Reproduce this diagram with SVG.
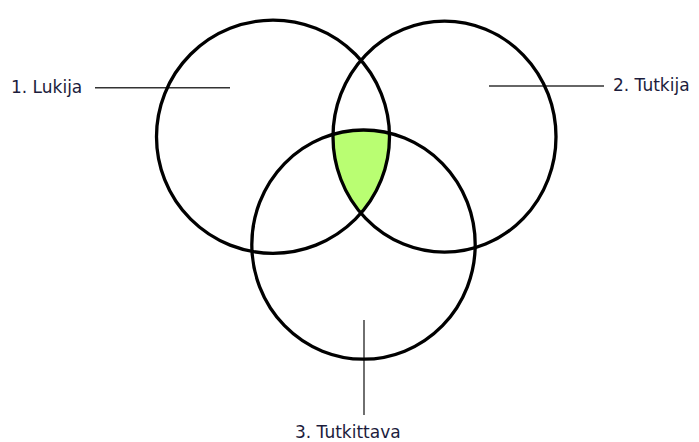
<svg xmlns="http://www.w3.org/2000/svg" width="699" height="442" viewBox="0 0 699 442">
  <style>
    .ring { fill: none; stroke: #000; stroke-width: 3.3; }
    .lead { stroke: #333; stroke-width: 1.4; fill: none; }
    .lbl { font-family: "DejaVu Sans", Verdana, sans-serif; font-size: 17px; fill: #1c1c3c; }
  </style>
  <defs>
    <clipPath id="clip1"><ellipse cx="273" cy="136.7" rx="116.5" ry="116.6"/></clipPath>
    <clipPath id="clip2"><ellipse cx="444.5" cy="136.7" rx="111.5" ry="115.5"/></clipPath>
  </defs>
  <rect width="699" height="442" fill="#fff"/>
  <g id="overlap" clip-path="url(#clip1)">
    <ellipse cx="363.5" cy="244.6" rx="111.7" ry="114.6" fill="#b9fe72" clip-path="url(#clip2)"/>
  </g>
  <g id="connectors">
    <line class="lead" x1="95" y1="87.7" x2="230" y2="87.7"/>
    <line class="lead" x1="489" y1="86" x2="604" y2="86"/>
    <line class="lead" x1="364" y1="320" x2="364" y2="415"/>
  </g>
  <g id="node1">
    <ellipse class="ring" cx="273" cy="136.7" rx="116.5" ry="116.6"/>
    <text class="lbl" x="11" y="93">1. Lukija</text>
  </g>
  <g id="node2">
    <ellipse class="ring" cx="444.5" cy="136.7" rx="111.5" ry="115.5"/>
    <text class="lbl" x="613" y="91">2. Tutkija</text>
  </g>
  <g id="node3">
    <ellipse class="ring" cx="363.5" cy="244.6" rx="111.7" ry="114.6"/>
    <text class="lbl" x="295" y="437.5">3. Tutkittava</text>
  </g>
</svg>
